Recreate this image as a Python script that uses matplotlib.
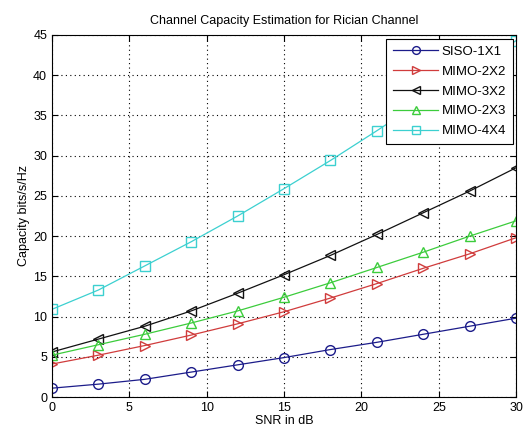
import matplotlib
matplotlib.use('Agg')
import matplotlib.pyplot as plt

plt.rcParams['font.family'] = ['Liberation Sans', 'DejaVu Sans']

# data
snr_db   = [0, 3, 6, 9, 12, 15, 18, 21, 24, 27, 30]
siso_1x1 = [1.1, 1.6, 2.2, 3.1, 4.0, 4.9, 5.9, 6.8, 7.8, 8.8, 9.8]
mimo_2x2 = [4.1, 5.2, 6.4, 7.7, 9.1, 10.6, 12.3, 14.1, 16.0, 17.8, 19.8]
mimo_3x2 = [5.6, 7.2, 8.8, 10.7, 12.9, 15.2, 17.6, 20.2, 22.9, 25.6, 28.5]
mimo_2x3 = [5.2, 6.5, 7.8, 9.2, 10.7, 12.4, 14.2, 16.1, 18.0, 20.0, 21.9]
mimo_4x4 = [10.9, 13.3, 16.3, 19.3, 22.5, 25.9, 29.4, 33.1, 36.9, 40.6, 44.3]

series = [
  ('SISO-1X1', siso_1x1, 'o', '#1c1c8a'),
  ('MIMO-2X2', mimo_2x2, '>', '#d03c3c'),
  ('MIMO-3X2', mimo_3x2, '<', '#111111'),
  ('MIMO-2X3', mimo_2x3, '^', '#3ccc3c'),
  ('MIMO-4X4', mimo_4x4, 's', '#3cd0d0'),
]

fig = plt.figure(figsize=(5.28, 4.37), dpi=100)
ax = fig.add_axes([0.0985, 0.0915, 0.879, 0.8285])

for label, vals, mk, col in series:
  ax.plot(snr_db, vals, color=col, marker=mk, markersize=7, markerfacecolor='none',
          markeredgecolor=col, linewidth=0.9, label=label)

ax.set_xlim(0, 30)
ax.set_ylim(0, 45)
ax.set_xticks(range(0, 31, 5))
ax.set_yticks(range(0, 46, 5))
ax.tick_params(direction='in', labelsize=9, length=4, top=True, right=True)
ax.grid(True, linestyle=(0, (1, 3)), color='black', linewidth=0.8)
ax.set_xlabel('SNR in dB', fontsize=9, labelpad=1)
ax.set_ylabel('Capacity bits/s/Hz', fontsize=9, labelpad=2)
ax.set_title('Channel Capacity Estimation for Rician Channel', fontsize=9, pad=8)

leg = ax.legend(loc='upper right', fontsize=9.5, fancybox=False, framealpha=1,
                edgecolor='black', handlelength=3.4, handletextpad=0.3,
                borderpad=0.5, labelspacing=0.58, markerscale=0.8,
                borderaxespad=0, bbox_to_anchor=(0.993, 0.989))
leg.get_frame().set_linewidth(0.8)

fig.savefig('out.png', dpi=100)
